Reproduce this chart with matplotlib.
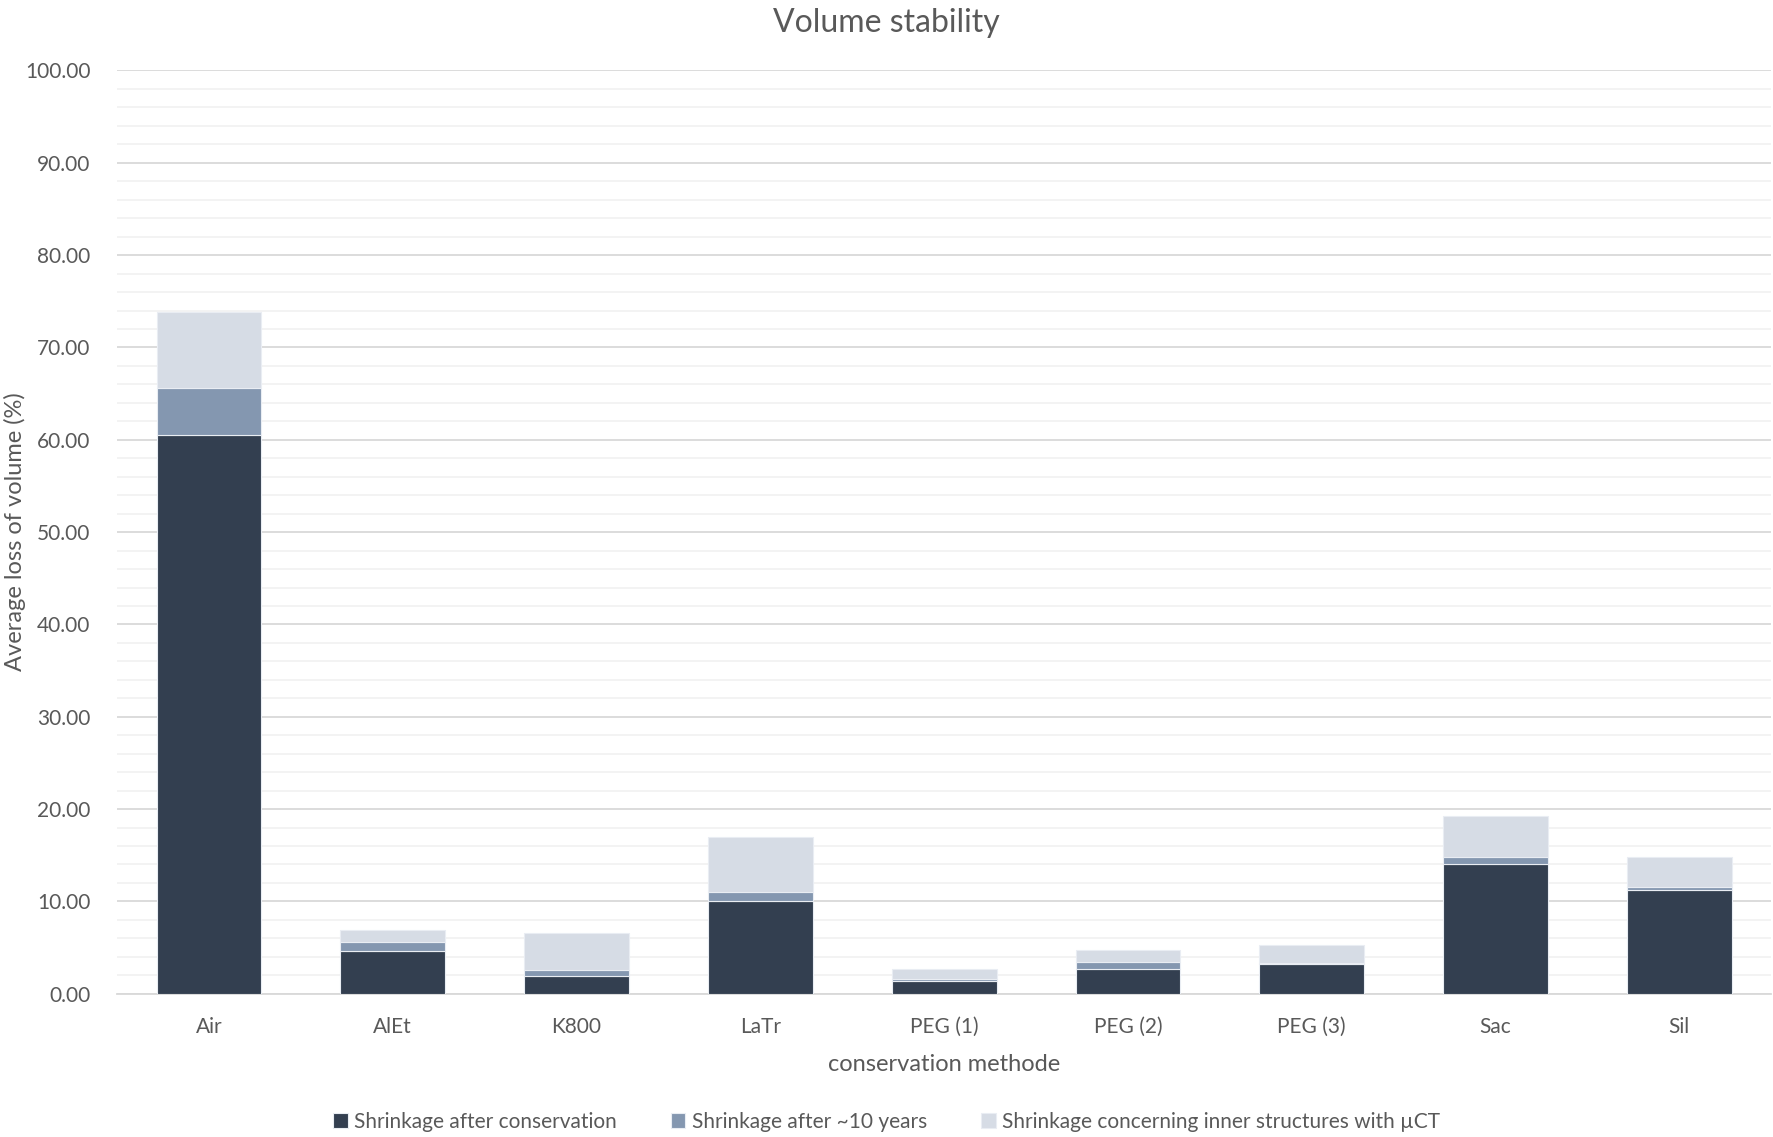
import matplotlib
matplotlib.use("Agg")
import matplotlib.pyplot as plt
import numpy as np

plt.rcParams['font.family'] = ['Lato', 'DejaVu Sans']

methods = ['Air', 'AlEt', 'K800', 'LaTr', 'PEG (1)', 'PEG (2)', 'PEG (3)', 'Sac', 'Sil']
after_conservation = [60.5, 4.6, 1.9, 10.0, 1.35, 2.65, 3.25, 14.1, 11.2]
after_10_years = [5.1, 1.0, 0.65, 1.0, 0.22, 0.8, 0.05, 0.75, 0.35]
inner_structures = [8.2, 1.25, 4.05, 6.0, 1.15, 1.3, 1.95, 4.35, 3.3]

labels = ['Shrinkage after conservation', 'Shrinkage after ~10 years',
          'Shrinkage concerning inner structures with µCT']
colors = ['#333f50', '#8497b0', '#d6dce5']
text_c = '#595959'

fig = plt.figure(figsize=(17.73, 11.37), dpi=100)
ax = fig.add_axes([0.066, 0.126, 0.933, 0.812])

x = np.arange(len(methods))
w = 0.57
bottom = np.zeros(len(methods))
for vals, lab, col in zip([after_conservation, after_10_years, inner_structures], labels, colors):
    ax.bar(x, vals, w, bottom=bottom, color=col, label=lab,
           edgecolor='#e9edf3', linewidth=0.8, zorder=3)
    bottom += np.array(vals)

ax.set_xlim(-0.5, len(methods) - 0.5)
ax.set_ylim(0, 100)
ax.set_yticks(np.arange(0, 101, 10))
ax.set_yticklabels([f'{v:.2f}' for v in np.arange(0, 101, 10)])
ax.set_yticks(np.arange(0, 101, 2), minor=True)
ax.set_xticks(x)
ax.set_xticklabels(methods)
ax.grid(axis='y', which='major', color='#d9d9d9', linewidth=1.3, zorder=0)
ax.grid(axis='y', which='minor', color='#f2f2f2', linewidth=1.3, zorder=0)
ax.tick_params(axis='both', which='both', length=0, labelsize=15, colors=text_c)
ax.tick_params(axis='y', pad=19)
ax.tick_params(axis='x', pad=17)
for s in ['top', 'right', 'left']:
    ax.spines[s].set_visible(False)
ax.spines['bottom'].set_color('#d9d9d9')
ax.spines['bottom'].set_linewidth(1.3)

ax.set_xlabel('conservation methode', fontsize=17, color=text_c, labelpad=12)
ax.set_ylabel('Average loss of volume (%)', fontsize=17, color=text_c)
ax.yaxis.set_label_coords(-0.055, 0.5)
fig.suptitle('Volume stability', fontsize=23, color=text_c, y=0.993)

fig.legend(loc='lower center', bbox_to_anchor=(0.5, -0.012), ncol=3, frameon=False,
           fontsize=15, handlelength=0.7, handleheight=0.7, handletextpad=0.3,
           columnspacing=2.6, labelcolor=text_c)

fig.savefig('out.png', dpi=100)
